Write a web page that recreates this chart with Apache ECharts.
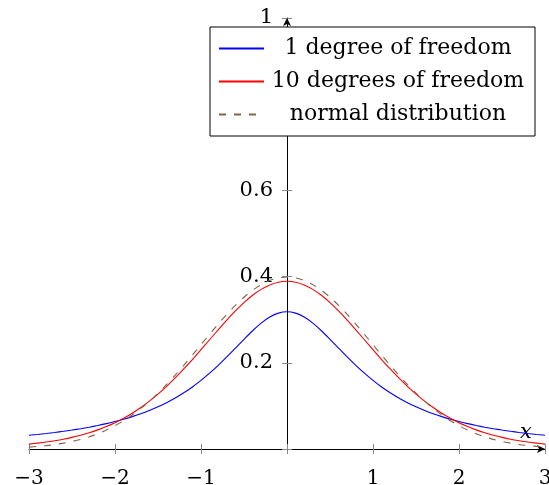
<!DOCTYPE html>
<html>
<head>
<meta charset="utf-8">
<script src="https://cdn.jsdelivr.net/npm/echarts@6/dist/echarts.min.js"></script>
<style>html,body{margin:0;padding:0;background:#fff}#c{width:549px;height:485px}</style>
</head>
<body>
<div id="c"></div>
<script>
var xs = [-3,-2.9,-2.8,-2.7,-2.6,-2.5,-2.4,-2.3,-2.2,-2.1,-2,-1.9,-1.8,-1.7,-1.6,-1.5,-1.4,-1.3,-1.2,-1.1,-1,-0.9,-0.8,-0.7,-0.6,-0.5,-0.4,-0.3,-0.2,-0.1,0,
          0.1,0.2,0.3,0.4,0.5,0.6,0.7,0.8,0.9,1,1.1,1.2,1.3,1.4,1.5,1.6,1.7,1.8,1.9,2,2.1,2.2,2.3,2.4,2.5,2.6,2.7,2.8,2.9,3];
var t1 = [0.0318,0.0338,0.0360,0.0384,0.0410,0.0439,0.0471,0.0506,0.0545,0.0588,0.0637,0.0690,0.0751,0.0818,0.0894,0.0979,0.1075,0.1183,0.1305,0.1440,0.1592,0.1759,0.1941,0.2136,0.2341,0.2546,0.2744,0.2920,0.3061,0.3152,0.3183,
          0.3152,0.3061,0.2920,0.2744,0.2546,0.2341,0.2136,0.1941,0.1759,0.1592,0.1440,0.1305,0.1183,0.1075,0.0979,0.0894,0.0818,0.0751,0.0690,0.0637,0.0588,0.0545,0.0506,0.0471,0.0439,0.0410,0.0384,0.0360,0.0338,0.0318];
var t10 = [0.0114,0.0136,0.0161,0.0192,0.0227,0.0269,0.0319,0.0377,0.0444,0.0522,0.0611,0.0714,0.0831,0.0963,0.1111,0.1274,0.1454,0.1648,0.1857,0.2076,0.2304,0.2535,0.2766,0.2991,0.3203,0.3397,0.3566,0.3704,0.3806,0.3870,0.3891,
           0.3870,0.3806,0.3704,0.3566,0.3397,0.3203,0.2991,0.2766,0.2535,0.2304,0.2076,0.1857,0.1648,0.1454,0.1274,0.1111,0.0963,0.0831,0.0714,0.0611,0.0522,0.0444,0.0377,0.0319,0.0269,0.0227,0.0192,0.0161,0.0136,0.0114];
var normal = [0.0044,0.0060,0.0079,0.0104,0.0136,0.0175,0.0224,0.0283,0.0355,0.0440,0.0540,0.0656,0.0790,0.0941,0.1109,0.1295,0.1497,0.1714,0.1942,0.2179,0.2420,0.2661,0.2897,0.3123,0.3332,0.3521,0.3683,0.3814,0.3910,0.3970,0.3989,
              0.3970,0.3910,0.3814,0.3683,0.3521,0.3332,0.3123,0.2897,0.2661,0.2420,0.2179,0.1942,0.1714,0.1497,0.1295,0.1109,0.0941,0.0790,0.0656,0.0540,0.0440,0.0355,0.0283,0.0224,0.0175,0.0136,0.0104,0.0079,0.0060,0.0044];
var names = ['1 degree of freedom','10 degrees of freedom','normal distribution'];
var xTickLabels = {'-3':'\u22123','-2':'\u22122','-1':'\u22121','1':'1','2':'2','3':'3'};
var yTickLabels = {'0.2':'0.2','0.4':'0.4','0.6':'0.6','0.8':'0.8','1':'1'};

function pairs(ys){ return xs.map(function(x,i){ return [x, ys[i]]; }); }
var FONT = 'DejaVu Serif';
var GL = 29, GR = 4, YOFF = -(549 - GL - GR) / 2;
var chart = echarts.init(document.getElementById('c'), null, {renderer:'canvas'});
var tickStyle = {color:'#888', width:1};
chart.setOption({
  animation:false,
  backgroundColor:'#fff',
  grid:{left:GL, right:GR, top:18, bottom:36, containLabel:false, outerBoundsMode:'none'},
  xAxis:[{
    type:'value', min:-3, max:3, interval:1,
    axisLine:{onZero:false, lineStyle:{color:'#000', width:1}, symbol:['none','arrow'], symbolSize:[6,8]},
    axisTick:{show:true, inside:false, length:5, lineStyle:tickStyle},
    splitLine:{show:false},
    axisLabel:{fontFamily:FONT, fontSize:20, color:'#000', margin:20,
      formatter:function(v){ var k=String(Math.round(v)); return xTickLabels[k]||''; }},
    name:'x', nameLocation:'end', nameGap:-25,
    nameTextStyle:{fontFamily:FONT, fontStyle:'italic', fontSize:21, color:'#000', verticalAlign:'bottom', padding:[0,0,6,0]}
  },{
    type:'value', min:-3, max:3, interval:1, position:'bottom',
    axisLine:{show:false, onZero:false}, axisLabel:{show:false}, splitLine:{show:false},
    axisTick:{show:true, inside:true, length:5, lineStyle:tickStyle}
  }],
  yAxis:[{
    type:'value', min:0, max:1, interval:0.2, position:'left', offset:YOFF,
    axisLine:{onZero:false, lineStyle:{color:'#000', width:1}, symbol:['none','arrow'], symbolSize:[6,8]},
    axisTick:{show:true, inside:false, length:5, lineStyle:tickStyle},
    splitLine:{show:false},
    axisLabel:{fontFamily:FONT, fontSize:21, color:'#000', margin:14,
      formatter:function(v){ var k=String(Math.round(v*10)/10); return yTickLabels[k]||''; }}
  },{
    type:'value', min:0, max:1, interval:0.2, position:'left', offset:YOFF,
    axisLine:{onZero:false, show:false}, axisLabel:{show:false}, splitLine:{show:false},
    axisTick:{show:true, inside:true, length:5, lineStyle:tickStyle}
  }],
  legend:{
    left:210, top:27, orient:'vertical',
    backgroundColor:'#fff', borderColor:'#000', borderWidth:1,
    padding:[5,8,5,8], itemGap:0, itemWidth:45, itemHeight:14, itemTextGap:5,
    z:10,
    itemStyle:{opacity:0},
    data:names.map(function(n){ return {name:n}; }),
    textStyle:{fontFamily:FONT, fontSize:22, color:'#000',
      rich:{a:{width:258, align:'center', lineHeight:33, height:33, fontFamily:FONT, fontSize:22, color:'#000'}}},
    formatter:function(n){ return '{a|'+n+'}'; }
  },
  series:[
    {name:names[0], type:'line', data:pairs(t1), smooth:0.3, symbol:'none', xAxisIndex:0, yAxisIndex:0,
     lineStyle:{color:'#0000ff', width:1.1}, itemStyle:{color:'#0000ff'}},
    {name:names[1], type:'line', data:pairs(t10), smooth:0.3, symbol:'none', xAxisIndex:0, yAxisIndex:0,
     lineStyle:{color:'#ff0000', width:1.1}, itemStyle:{color:'#ff0000'}},
    {name:names[2], type:'line', data:pairs(normal), smooth:0.3, symbol:'none', xAxisIndex:0, yAxisIndex:0,
     lineStyle:{color:'#806548', width:1.1, type:[7,8]}, itemStyle:{color:'#806548'}}
  ]
});
</script>
</body>
</html>
